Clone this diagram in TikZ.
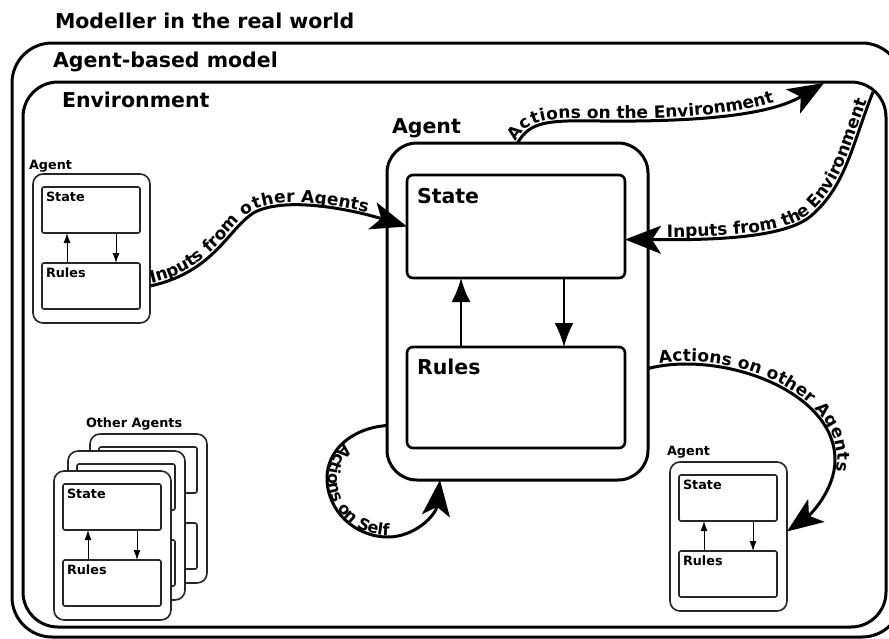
\documentclass[tikz,border=0pt]{standalone}
\usepackage{fontspec}
\setmainfont{DejaVu Sans}
\usetikzlibrary{arrows.meta,decorations.text}
\newcommand\FBig{\fontsize{20.5}{24}\selectfont\bfseries}
\newcommand\FSmall{\fontsize{12.8}{15}\selectfont\bfseries}
\newcommand\FPath{\fontsize{17}{20}\selectfont\bfseries}
\newcommand\FSelf{\fontsize{16}{19}\selectfont\bfseries}
\tikzset{
  every node/.style={inner sep=0pt, outer sep=0pt},
  bigframe/.style={draw, rectangle, line width=3pt, rounded corners=#1, anchor=north west},
  inbox/.style={draw, rectangle, line width=2.6pt, rounded corners=6pt, anchor=north west, minimum width=218pt},
  biglabel/.style={anchor=base west, font=\FBig},
  minibox/.style={draw=black!85, rectangle, line width=1.6pt, rounded corners=10pt, fill=white, anchor=north west},
  miniin/.style={draw=black!85, rectangle, line width=1.6pt, rounded corners=2pt, fill=white, anchor=north west, minimum width=98pt, minimum height=46pt},
  minilabel/.style={anchor=base west, font=\FSmall},
  miniarrow/.style={line width=1pt, -{Latex[length=10pt,width=7pt]}},
  midarrow/.style={line width=2pt, -{Latex[length=24pt,width=19pt]}},
  conn/.style={line width=3pt, -{Stealth[length=36pt,width=28pt,inset=9pt]}},
  pathtext/.style={decorate, decoration={text along path, raise=2.5pt, text align={left indent=#1}}},
}
\newcommand\miniagentbox[3]{%
  \node[minibox, minimum width=117pt, minimum height=149pt] (#1) at (#2,#3) {};
  \node[miniin] (#1-s) at (#2+9,#3+13) {};
  \node[miniin] (#1-r) at (#2+9,#3+89) {};
}
\newcommand\miniagent[3]{%
  \miniagentbox{#1}{#2}{#3}
  \node[minilabel] (#1-sl) at ([xshift=4pt,yshift=-14pt]#1-s.north west) {State};
  \node[minilabel] (#1-rl) at ([xshift=4pt,yshift=-14pt]#1-r.north west) {Rules};
  \draw[miniarrow] ([xshift=25pt]#1-r.north west) -- ([xshift=25pt]#1-s.south west);
  \draw[miniarrow] ([xshift=74pt]#1-s.south west) -- ([xshift=74pt]#1-r.north west);
}
\begin{document}
\begin{tikzpicture}[x=1pt,y=-1pt]
\useasboundingbox (0,0) rectangle (889,638);
\clip (0,0) rectangle (889,638);
\fill[white] (0,0) rectangle (889,638);
% frames
\node[bigframe=40pt, minimum width=890pt, minimum height=594pt] (abm) at (12,43) {};
\node[bigframe=35pt, minimum width=863pt, minimum height=545pt] (env) at (23,82) {};
\node[biglabel] (t1) at (55,28) {Modeller in the real world};
\node[biglabel] (t2) at (53,67) {Agent-based model};
\node[biglabel] (t3) at (62,107) {Environment};
% central agent
\node[biglabel] (t4) at (392,133) {Agent};
\node[bigframe=30pt, minimum width=261pt, minimum height=337pt] (cagent) at (387,143) {};
\node[inbox, minimum height=103pt] (state) at (407,175) {};
\node[inbox, minimum height=101pt] (rules) at (407,347) {};
\node[biglabel] (statel) at ([xshift=10pt,yshift=-28pt]state.north west) {State};
\node[biglabel] (rulesl) at ([xshift=10pt,yshift=-27pt]rules.north west) {Rules};
\draw[midarrow] ([xshift=54pt]rules.north west) -- ([xshift=54pt]state.south west);
\draw[midarrow] ([xshift=157pt]state.south west) -- ([xshift=157pt]rules.north west);
% left agent
\node[minilabel] (lagentl) at (29,169) {Agent};
\miniagent{lagent}{33}{174}
% other agents
\node[minilabel] (othl) at (86,427) {Other Agents};
\miniagentbox{oa3}{90}{434}
\miniagentbox{oa2}{68}{451}
\miniagent{oa1}{54}{471}
% right agent
\node[minilabel] (ragentl) at (667,455) {Agent};
\miniagent{ragent}{670}{462}
% coordinates on the environment border
\coordinate (envtip) at (824,83);
\coordinate (envcorner) at (873,92);
% connectors
\draw[conn] (lagent.east |- lagent-r.center) .. controls (215,272) and (228,228) .. (255,212) .. controls (290,195) and (360,212) .. (state.west);
\path[pathtext=2pt, decoration={text={|\FPath|Inputs from other Agents}}] (lagent.east |- lagent-r.center) .. controls (215,272) and (228,228) .. (255,212) .. controls (290,195) and (360,212) .. (state.west);

\draw[conn] (cagent.north) .. controls (530,122) and (545,120) .. (600,121) .. controls (700,122) and (770,115) .. (envtip);
\path[pathtext=0pt, decoration={text={|\FPath|Actions on the Environment}}] (cagent.north) .. controls (530,122) and (545,120) .. (600,121) .. controls (700,122) and (770,115) .. (envtip);

\draw[conn] (envcorner) .. controls (852,145) and (846,185) .. (812,215) .. controls (785,240) and (700,240) .. ([yshift=-13pt]state.east);
\path[pathtext=42pt, decoration={text={|\FPath|Inputs from the Environment}}] ([yshift=-13pt]state.east) .. controls (700,240) and (785,240) .. (812,215) .. controls (846,185) and (852,145) .. (envcorner);

\draw[conn] ([yshift=-57pt]cagent.east) .. controls (720,350) and (835,390) .. (835,460) .. controls (835,490) and (810,515) .. ([yshift=5pt]ragent.east);
\path[pathtext=12pt, decoration={text={|\FPath|Actions on other Agents}}] ([yshift=-57pt]cagent.east) .. controls (720,350) and (835,390) .. (835,460) .. controls (835,490) and (810,515) .. ([yshift=5pt]ragent.east);

\draw[conn] ([yshift=-114pt]cagent.west) .. controls (352,428) and (327,450) .. (327,478) .. controls (327,511) and (355,537) .. (388,537) .. controls (415,537) and (436,515) .. ([xshift=53pt]cagent.south west);
\path[decorate, decoration={text along path, raise=1.5pt, text align={left indent=48pt}, text={|\FSelf|Actions on Self}}] ([yshift=-114pt]cagent.west) .. controls (352,428) and (327,450) .. (327,478) .. controls (327,511) and (355,537) .. (388,537) .. controls (415,537) and (436,515) .. ([xshift=53pt]cagent.south west);
\end{tikzpicture}
\end{document}
